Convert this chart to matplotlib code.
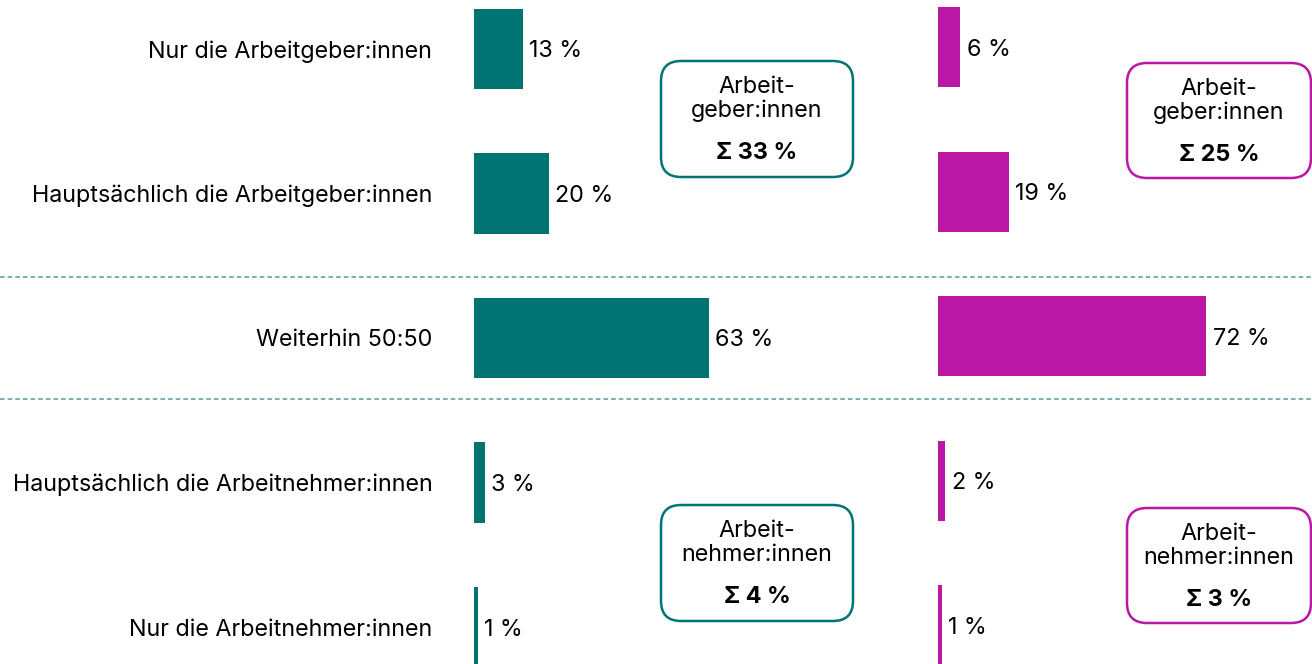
import matplotlib
matplotlib.use("Agg")
import matplotlib.pyplot as plt
import numpy as np
from matplotlib.patches import FancyBboxPatch

plt.rcParams['font.family'] = ['Inter', 'DejaVu Sans']
plt.rcParams['font.size'] = 16.8

categories = [
    "Nur die Arbeitgeber:innen",
    "Hauptsächlich die Arbeitgeber:innen",
    "Weiterhin 50:50",
    "Hauptsächlich die Arbeitnehmer:innen",
    "Nur die Arbeitnehmer:innen",
]
left_values = [13, 20, 63, 3, 1]
right_values = [6, 19, 72, 2, 1]

group_titles = ["Arbeit-\ngeber:innen", "Arbeit-\nnehmer:innen"]
left_sums = [33, 4]
right_sums = [25, 3]

teal = "#007473"
magenta = "#BA17A5"
dash_col = "#4f9e9e"

W, H, dpi = 1312, 664, 100
fig = plt.figure(figsize=(W / dpi, H / dpi), dpi=dpi)

# px per percent ~3.73, category spacing 144.5 px
ax_l = fig.add_axes([474 / W, 0, 456 / W, 1])
ax_r = fig.add_axes([938 / W, 0, 374 / W, 1])

y = np.arange(len(categories))
for ax, vals, col, xmax, off in [(ax_l, left_values, teal, 122.2, 0.0),
                                 (ax_r, right_values, magenta, 100.3, 0.012)]:
    bars = ax.barh(y, vals, height=0.555, color=col)
    labels = ax.bar_label(bars, labels=[f"{v} %" for v in vals], padding=4.5)
    for t in labels:
        t.xyann = (4.5, -1.8)
    ax.set_xlim(0, xmax)
    ax.set_ylim(4.256 + off, -0.339 + off)
    ax.set_xticks([])
    for s in ax.spines.values():
        s.set_visible(False)
    ax.patch.set_alpha(0)

ax_l.set_yticks(y)
ax_l.set_yticklabels(categories)
ax_l.tick_params(axis='y', length=0, pad=30)
ax_r.set_yticks([])

# dashed separators around the 50:50 row
for yy in [2 - 0.42, 2 + 0.42]:
    ax_l.axhline(yy, xmin=-474 / 456, xmax=(W - 474) / 456, color=dash_col,
                 lw=1.1, ls=(0, (3, 2)), clip_on=False, zorder=0)

# summary boxes (pixel layout from the top-left corner)
def px(x, ytop):
    return x / dpi, (H - ytop) / dpi

boxes = [
    (661, 61, 192, 116, teal, group_titles[0], left_sums[0]),
    (661, 505, 192, 116, teal, group_titles[1], left_sums[1]),
    (1127, 63, 184, 115, magenta, group_titles[0], right_sums[0]),
    (1127, 508, 184, 115, magenta, group_titles[1], right_sums[1]),
]
for x0, y0, bw, bh, col, title, total in boxes:
    bx, by = px(x0, y0 + bh)
    patch = FancyBboxPatch((bx, by), bw / dpi, bh / dpi,
                           boxstyle="round,pad=0,rounding_size=0.2",
                           transform=fig.dpi_scale_trans, fc="white",
                           ec=col, lw=1.8, zorder=5)
    fig.add_artist(patch)
    cx = x0 + bw / 2
    tx, ty = px(cx, y0 + 38)
    fig.text(tx, ty, title, transform=fig.dpi_scale_trans, ha="center",
             va="center", linespacing=1.1, zorder=6)
    sx, sy = px(cx, y0 + 92)
    fig.text(sx, sy, f"Σ {total} %", transform=fig.dpi_scale_trans,
             ha="center", va="center", fontweight="bold", zorder=6)

fig.savefig("out.png", dpi=dpi)
